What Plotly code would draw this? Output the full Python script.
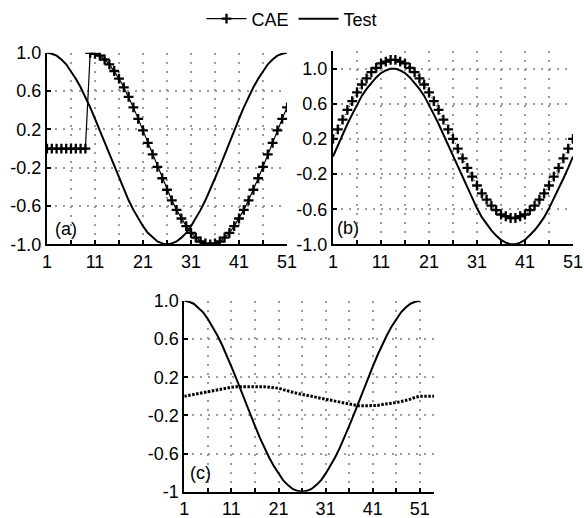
import plotly.graph_objects as go

# ---------------- data ----------------
x_ab = list(range(1, 52))
x_c_cae = list(range(1, 55))

test_a = [1.00, 0.99, 0.97, 0.93, 0.88, 0.81, 0.73, 0.64, 0.54, 0.43, 0.31, 0.19, 0.06,
          -0.06, -0.19, -0.31, -0.43, -0.54, -0.64, -0.73, -0.81, -0.88, -0.93, -0.97, -0.99,
          -1.00, -0.99, -0.97, -0.93, -0.88, -0.81, -0.73, -0.64, -0.54, -0.43, -0.31, -0.19,
          -0.06, 0.06, 0.19, 0.31, 0.43, 0.54, 0.64, 0.73, 0.81, 0.88, 0.93, 0.97, 0.99, 1.00]

cae_a = [0.00, 0.00, 0.00, 0.00, 0.00, 0.00, 0.00, 0.00, 0.00,
         1.00, 0.99, 0.97, 0.93, 0.88, 0.81, 0.73, 0.64, 0.54, 0.43, 0.31, 0.19, 0.06,
         -0.06, -0.19, -0.31, -0.43, -0.54, -0.64, -0.73, -0.81, -0.88, -0.93, -0.97, -0.99,
         -1.00, -0.99, -0.97, -0.93, -0.88, -0.81, -0.73, -0.64, -0.54, -0.43, -0.31, -0.19,
         -0.06, 0.06, 0.19, 0.31, 0.43]

test_b = [0.00, 0.13, 0.25, 0.37, 0.48, 0.59, 0.69, 0.77, 0.84, 0.90, 0.95, 0.98, 1.00,
          1.00, 0.98, 0.95, 0.90, 0.84, 0.77, 0.69, 0.59, 0.48, 0.37, 0.25, 0.13, 0.00,
          -0.13, -0.25, -0.37, -0.48, -0.59, -0.69, -0.77, -0.84, -0.90, -0.95, -0.98, -1.00,
          -1.00, -0.98, -0.95, -0.90, -0.84, -0.77, -0.69, -0.59, -0.48, -0.37, -0.25, -0.13, 0.00]

cae_b = [0.20, 0.31, 0.42, 0.53, 0.63, 0.73, 0.82, 0.89, 0.96, 1.01, 1.06, 1.08, 1.10,
         1.10, 1.08, 1.06, 1.01, 0.96, 0.89, 0.82, 0.73, 0.63, 0.53, 0.42, 0.31, 0.20,
         0.09, -0.02, -0.13, -0.23, -0.33, -0.42, -0.49, -0.56, -0.61, -0.66, -0.68, -0.70,
         -0.70, -0.68, -0.66, -0.61, -0.56, -0.49, -0.42, -0.33, -0.23, -0.13, -0.02, 0.09, 0.20]

test_c = [1.00, 0.99, 0.97, 0.93, 0.88, 0.81, 0.73, 0.64, 0.54, 0.43, 0.31, 0.19, 0.06,
          -0.06, -0.19, -0.31, -0.43, -0.54, -0.64, -0.73, -0.81, -0.88, -0.93, -0.97, -0.99,
          -1.00, -0.99, -0.97, -0.93, -0.88, -0.81, -0.73, -0.64, -0.54, -0.43, -0.31, -0.19,
          -0.06, 0.06, 0.19, 0.31, 0.43, 0.54, 0.64, 0.73, 0.81, 0.88, 0.93, 0.97, 0.99, 1.00]

cae_c = [0.00, 0.01, 0.02, 0.03, 0.04, 0.05, 0.06, 0.07, 0.08, 0.09, 0.095, 0.10, 0.10,
         0.10, 0.105, 0.105, 0.10, 0.10, 0.095, 0.09, 0.085, 0.07, 0.055, 0.04, 0.03, 0.02,
         0.01, 0.00, -0.01, -0.025, -0.035, -0.045, -0.055, -0.065, -0.075, -0.085, -0.09,
         -0.10, -0.10, -0.10, -0.10, -0.095, -0.085, -0.08, -0.075, -0.065, -0.055, -0.045,
         -0.03, -0.01, 0.00, 0.00, 0.00, 0.00]

y_tickvals = [1.0, 0.6, 0.2, -0.2, -0.6, -1.0]
y_ticktext_ab = ["1.0", "0.6", "0.2", "-0.2", "-0.6", "-1.0"]
y_ticktext_c = ["1.0", "0.6", "0.2", "-0.2", "-0.6", "-1"]
x_tickvals = [1, 11, 21, 31, 41, 51]
x_ticktext = ["1", "11", "21", "31", "41", "51"]
panel_labels = ["(a)", "(b)", "(c)"]

# ---------------- figure ----------------
W, H = 584, 518
FONT = "Liberation Sans, Arial, sans-serif"
GRID = "#9a9a9a"
FS = 18

fig = go.Figure()

cae_marker = dict(symbol="cross-thin", size=7, color="black",
                  line=dict(width=2.3, color="black"))

fig.add_trace(go.Scatter(x=x_ab, y=cae_a, mode="lines+markers", name="CAE",
                         line=dict(color="black", width=1.2), marker=cae_marker,
                         xaxis="x", yaxis="y", legendgroup="cae", showlegend=True))
fig.add_trace(go.Scatter(x=x_ab, y=test_a, mode="lines", name="Test",
                         line=dict(color="black", width=2),
                         xaxis="x", yaxis="y", legendgroup="test", showlegend=True))
fig.add_trace(go.Scatter(x=x_ab, y=cae_b, mode="lines+markers", name="CAE",
                         line=dict(color="black", width=1, dash="1px,2px"), marker=cae_marker,
                         xaxis="x2", yaxis="y2", legendgroup="cae", showlegend=False))
fig.add_trace(go.Scatter(x=x_ab, y=test_b, mode="lines", name="Test",
                         line=dict(color="black", width=2),
                         xaxis="x2", yaxis="y2", legendgroup="test", showlegend=False))
fig.add_trace(go.Scatter(x=x_c_cae, y=cae_c, mode="lines", name="CAE",
                         line=dict(color="black", width=3, dash="2.5px,1.5px"),
                         xaxis="x3", yaxis="y3", legendgroup="cae", showlegend=False))
fig.add_trace(go.Scatter(x=x_ab, y=test_c, mode="lines", name="Test",
                         line=dict(color="black", width=2),
                         xaxis="x3", yaxis="y3", legendgroup="test", showlegend=False))


def xaxis(domain, rng, anchor):
    return dict(domain=domain, range=rng, anchor=anchor,
                tickmode="array", tickvals=x_tickvals, ticktext=x_ticktext,
                ticks="inside", ticklen=4, tickwidth=1.5, tickcolor="black",
                showline=True, linecolor="black", linewidth=2, mirror=False,
                showgrid=True, gridcolor=GRID, gridwidth=2, griddash="2px,7px",
                minor=dict(tickvals=[6, 16, 26, 36, 46], ticks="inside", ticklen=4,
                           tickwidth=1.5, tickcolor="black", showgrid=True,
                           gridcolor=GRID, gridwidth=2, griddash="2px,7px"),
                zeroline=False, automargin=False,
                tickfont=dict(family=FONT, size=FS, color="black"))


def yaxis(domain, rng, anchor, ticktext):
    return dict(domain=domain, range=rng, anchor=anchor,
                tickmode="array", tickvals=y_tickvals, ticktext=ticktext,
                ticks="inside", ticklen=4, tickwidth=1.5, tickcolor="black",
                showline=True, linecolor="black", linewidth=2, mirror=False,
                showgrid=True, gridcolor=GRID, gridwidth=2, griddash="2px,6px",
                zeroline=False, automargin=False,
                tickfont=dict(family=FONT, size=FS, color="black"))


xa = [47 / W, 287 / W]
xb = [333 / W, 573 / W]
xc = [184.3 / W, 434 / W]
ya = [1 - 243.3 / H, 1 - 51 / H]
yb = [1 - 243.3 / H, 1 - 49.3 / H]
yc = [1 - 491.7 / H, 1 - 300 / H]

fig.update_layout(
    width=W, height=H,
    margin=dict(l=0, r=0, t=0, b=0),
    paper_bgcolor="white", plot_bgcolor="white",
    font=dict(family=FONT, size=FS, color="black"),
    xaxis=xaxis(xa, [1, 51], "y"),
    yaxis=yaxis(ya, [-1, 1], "x", y_ticktext_ab),
    xaxis2=xaxis(xb, [1, 51], "y2"),
    yaxis2=yaxis(yb, [-1, 1.2], "x2", y_ticktext_ab),
    xaxis3=xaxis(xc, [1, 54], "y3"),
    yaxis3=yaxis(yc, [-1, 1], "x3", y_ticktext_c),
    showlegend=True,
    legend=dict(orientation="h", x=0.5, xanchor="center", y=1 - 17 / H, yanchor="middle",
                font=dict(family=FONT, size=FS, color="black"),
                bgcolor="rgba(0,0,0,0)", itemwidth=40, tracegroupgap=0),
)

for lab, xr, yr, xx, yy in [(panel_labels[0], "x domain", "y domain", 0.025, 0.08),
                            (panel_labels[1], "x2 domain", "y2 domain", 0.01, 0.084),
                            (panel_labels[2], "x3 domain", "y3 domain", 0.015, 0.098)]:
    fig.add_annotation(text=lab, xref=xr, yref=yr, x=xx, y=yy, xanchor="left",
                       yanchor="middle", showarrow=False,
                       font=dict(family=FONT, size=FS, color="black"))

fig.write_html("out.html")
